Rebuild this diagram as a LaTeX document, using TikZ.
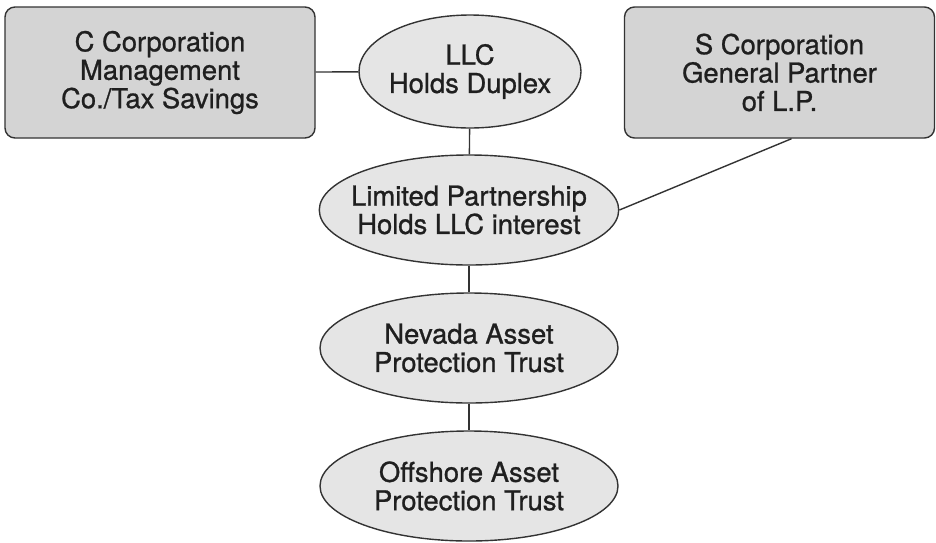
\documentclass[tikz,border=0pt]{standalone}
\usepackage{fontspec}
\setmainfont{TeX Gyre Heros}[FakeBold=0.9]
\usetikzlibrary{shapes.geometric}
\colorlet{boxc}{black!17}
\colorlet{ellc}{black!10}
\colorlet{linec}{black!80}
\tikzstyle{chart} = [
  x=0.5pt, y=-0.5pt,
  line width=0.7pt,
  every node/.style={font=\fontsize{13.7}{14.2}\selectfont, text=black!88, align=center},
]
\tikzstyle{corp} = [
  draw=linec, fill=boxc, rounded corners=5pt,
  minimum width=155pt, minimum height=65.5pt, inner sep=0pt,
]
\tikzstyle{holding} = [
  draw=linec, fill=ellc, ellipse,
  minimum width=149pt, minimum height=55pt, inner ysep=0pt, inner xsep=-6pt,
]

\begin{document}
\begin{tikzpicture}[chart]
      \useasboundingbox (0,0) rectangle (936,542);

      % Corporations
      \node[corp] (ccorp) at (160,72.5) {C Corporation\\Management\\Co./Tax Savings};
      \node[corp] (scorp) at (779.5,72.5) {S Corporation\\General Partner\\of L.P.};

      % Holdings
      \node[holding, minimum width=111pt, minimum height=56.5pt] (llc) at (470,71.5) {LLC\\Holds Duplex};
      \node[holding] (lp) at (469,210) {Limited Partnership\\Holds LLC interest};
      \node[holding] (nevada) at (469,348) {Nevada Asset\\Protection Trust};
      \node[holding] (offshore) at (469,486) {Offshore Asset\\Protection Trust};

      % Links
      \draw[linec] (ccorp) -- (llc);
      \draw[linec] (llc) -- (lp);
      \draw[linec] ([xshift=6pt]scorp.south) -- (lp.east);
      \draw[linec] (lp) -- (nevada);
      \draw[linec] (nevada) -- (offshore);
    \end{tikzpicture}
\end{document}
